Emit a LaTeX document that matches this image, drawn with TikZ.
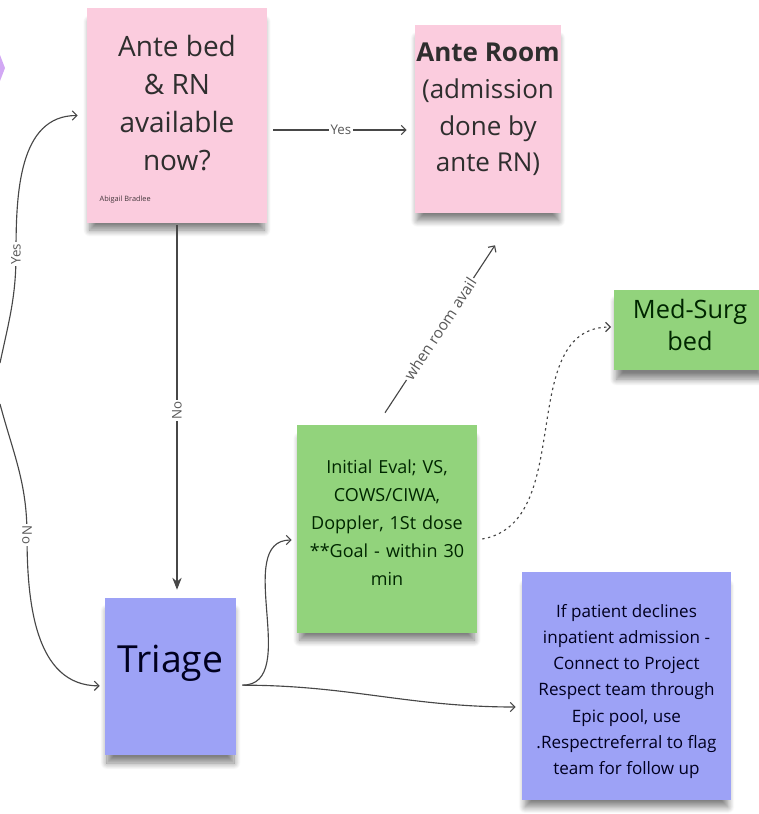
\documentclass[tikz,border=0pt]{standalone}
\usepackage{fontspec}
\setmainfont{Open Sans}
\usetikzlibrary{arrows.meta,positioning,fit,calc,shadows.blur}

\definecolor{notepink}{HTML}{FBCCDE}
\definecolor{notegreen}{HTML}{92D37C}
\definecolor{noteblue}{HTML}{9DA2F6}
\definecolor{notelilac}{HTML}{D2A8F4}
\definecolor{linegray}{HTML}{474747}

\tikzset{
  note/.style={inner sep=0pt, fit={#1}, align=center,
    blur shadow={shadow xshift=0pt, shadow yshift=-8pt, shadow scale=0.97,
      shadow opacity=50, shadow blur steps=10, shadow blur radius=5pt}},
  pinknote/.style={note={#1}, fill=notepink, text=black!82},
  greennote/.style={note={#1}, fill=notegreen, text=black!75!green!60!black},
  bluenote/.style={note={#1}, fill=noteblue, text=black!70!blue!40!black},
  flow/.style={draw=linegray, line width=0.85pt, -{Straight Barb[length=3.5pt,width=7pt]}},
  tag/.style={font=\fontsize{10}{11}\selectfont, text=black!65, fill=white, inner sep=1.2pt},
}

\begin{document}
\begin{tikzpicture}[x=0.75pt, y=-0.75pt]
\useasboundingbox (0,0) rectangle (759,814);
\clip (0,0) rectangle (759,814);

% 左边的上一步
\fill[notelilac] (0,55) -- (5,68) -- (0,81) -- cycle;

% 便签
\node[pinknote={(87,8) (267,223)}] (bed) {};
\node[align=center, text=black!82, font=\fontsize{21}{28.5}\selectfont] (bedtxt)
  at ([yshift=9pt]bed.center) {Ante bed\\\& RN\\available\\now?};
\node[anchor=west, text=black!55!notepink!60!black, font=\fontsize{5.5}{6}\selectfont] (sign)
  at (95,200) {Abigail Bradlee};

\node[pinknote={(415,25) (561,213)}] (room) {};
\node[align=center, text=black!82, font=\fontsize{19.5}{27.5}\selectfont] (roomtxt)
  at ([yshift=7pt]room.center) {\textbf{Ante Room}\\(admission\\done by\\ante RN)};

\node[greennote={(614,290) (766,370)}] (medsurg) {};
\node[align=center, text=black!75!green!60!black, font=\fontsize{19}{24}\selectfont] (medtxt)
  at ([yshift=4pt]medsurg.center) {Med-Surg\\bed};

\node[greennote={(297,425) (477,633)}, font=\fontsize{13.5}{21}\selectfont] (eval)
  {Initial Eval; VS,\\COWS/CIWA,\\Doppler, 1St dose\\{}**Goal - within 30\\min};

\node[bluenote={(105,598) (236,755)}, font=\fontsize{28}{32}\selectfont] (triage) {Triage};

\node[bluenote={(522,572) (731,800)}] (decline) {};
\node[align=center, text=black!70!blue!40!black, font=\fontsize{12.8}{19.7}\selectfont] (declinetxt)
  at ([yshift=-4pt]decline.center)
  {If patient declines\\inpatient admission -\\Connect to Project\\Respect team through\\Epic pool, use\\.Respectreferral to flag\\team for follow up};

% 连线
\coordinate (yesfrom) at (0,363);
\coordinate (yesbend) at (16,254);
\coordinate (nofrom) at (0,404);
\coordinate (nobend) at (27,535);
\coordinate (yesrow) at (0,130);
\coordinate (triout) at ([xshift=4.5pt,yshift=-6.5pt]triage.east);

\draw[flow] (yesfrom) to[out=78,in=-90] (yesbend) to[out=90,in=180] ([xshift=-6.75pt]bed.west);
\node[tag, rotate=90] (yestag) at (yesbend) {Yes};

\draw[flow] (nofrom) to[out=-75,in=90] (nobend) to[out=-90,in=180] ([xshift=-3.75pt,yshift=-7pt]triage.west);
\node[tag, rotate=-90] (notag) at (nobend) {No};

\draw[flow, shorten <=4.5pt, shorten >=6pt] (bed.east |- yesrow) -- node[tag] (yestag2) {Yes} (room.west |- yesrow);

\draw[draw=linegray, line width=0.85pt, -{Stealth[length=9pt,width=7pt]}, shorten <=1.5pt, shorten >=6pt]
  (bed.south) -- node[tag, rotate=90] (notag2) {No} (bed.south |- triage.north);

\draw[flow] ([xshift=-1.5pt,yshift=9pt]eval.north) -- node[tag, sloped, font=\fontsize{11.5}{12}\selectfont] (availtag) {when room avail}
  ([xshift=5.25pt,yshift=-24pt]room.south);

\draw[flow, dash pattern=on 1.8pt off 2.6pt] ([xshift=3.75pt,yshift=-7.5pt]eval.east)
  to[out=10,in=180] ([xshift=-2pt,yshift=2.25pt]medsurg.west);

\draw[flow] (triout) to[out=0,in=180] ([xshift=-3.75pt,yshift=-8.25pt]eval.west);
\draw[flow] (triout) to[out=0,in=180] ([xshift=-4.5pt,yshift=-15.75pt]decline.west);
\end{tikzpicture}
\end{document}
